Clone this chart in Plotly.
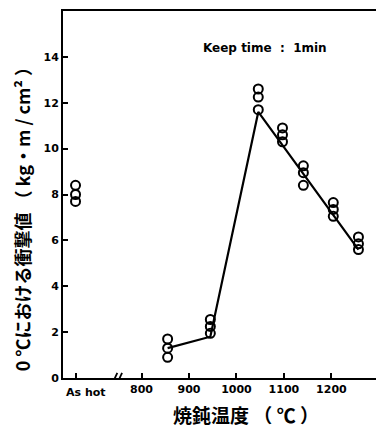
import plotly.graph_objects as go

# ---- data ----
as_hot_x = [661, 661, 661]
as_hot_y = [8.4, 8.0, 7.7]

temps = [855, 945, 1046, 1097, 1141, 1204, 1257]
impact = [
    [1.7, 1.3, 0.9],
    [2.55, 2.25, 1.95],
    [12.6, 12.25, 11.7],
    [10.9, 10.6, 10.3],
    [9.25, 8.95, 8.4],
    [7.65, 7.35, 7.05],
    [6.15, 5.85, 5.6],
]

fit_x = [855, 945, 1046, 1257]
fit_y = [1.3, 1.8, 11.6, 5.6]

x_tickvals = [661, 800, 900, 1000, 1100, 1200]
x_ticktext = ["", "800", "900", "1000", "1100", "1200"]
y_tickvals = [0, 2, 4, 6, 8, 10, 12, 14]

pts_x = []
pts_y = []
for t, ys in zip(temps, impact):
    for v in ys:
        pts_x.append(t)
        pts_y.append(v)

marker = dict(symbol="circle-open", size=9, color="black", line=dict(width=2, color="black"))
tickfont = dict(family="DejaVu Sans", size=11, color="black", weight="bold")

fig = go.Figure()
fig.add_trace(go.Scatter(x=fit_x, y=fit_y, mode="lines",
                         line=dict(color="black", width=2.2), hoverinfo="skip"))
fig.add_trace(go.Scatter(x=pts_x, y=pts_y, mode="markers", marker=marker))
fig.add_trace(go.Scatter(x=as_hot_x, y=as_hot_y, mode="markers", marker=marker))

# axis break mark "//"
for x0 in [744, 754]:
    fig.add_shape(type="line", xref="x", yref="y", x0=x0 - 5, y0=-0.22, x1=x0 + 5, y1=0.22,
                  line=dict(color="black", width=1.8))

fig.add_annotation(x=684, y=0, xref="x", yref="y", yshift=-14, text="As hot", showarrow=False,
                   font=tickfont)

fig.add_annotation(x=0.645, y=0.924, xref="paper", yref="paper", text="Keep time  :  1min",
                   showarrow=False,
                   font=dict(family="DejaVu Sans", size=12, color="black", weight="bold"))

fig.add_annotation(x=0.585, y=-0.10, xref="paper", yref="paper", yanchor="middle",
                   text="焼鈍温度 （ ℃ ）", showarrow=False,
                   font=dict(family="Noto Sans CJK JP", size=19, color="black", weight="bold"))

fig.add_annotation(x=-0.131, y=0.446, xref="paper", yref="paper", textangle=-90,
                   xanchor="center", yanchor="middle",
                   text="0 ℃における衝撃値 （ kg・m / cm² ）", showarrow=False,
                   font=dict(family="Noto Sans CJK JP", size=18, color="black", weight="bold"))

fig.update_layout(
    width=376, height=432,
    margin=dict(l=63, r=0, t=11, b=54),
    paper_bgcolor="white", plot_bgcolor="white",
    showlegend=False,
    xaxis=dict(
        range=[634.6, 1294], tickvals=x_tickvals, ticktext=x_ticktext,
        ticks="inside", ticklen=5, tickwidth=1.5, tickcolor="black",
        showline=True, linecolor="black", linewidth=2, mirror=True,
        showgrid=False, zeroline=False, automargin=False,
        tickfont=tickfont,
    ),
    yaxis=dict(
        range=[0, 16], tickvals=y_tickvals,
        ticks="inside", ticklen=5, tickwidth=1.5, tickcolor="black",
        showline=True, linecolor="black", linewidth=2,
        showgrid=False, zeroline=False, automargin=False,
        tickfont=tickfont,
    ),
)

fig.write_html("out.html", config={"displayModeBar": False},
               post_script="document.body.style.margin='0';document.body.style.overflow='hidden';")
